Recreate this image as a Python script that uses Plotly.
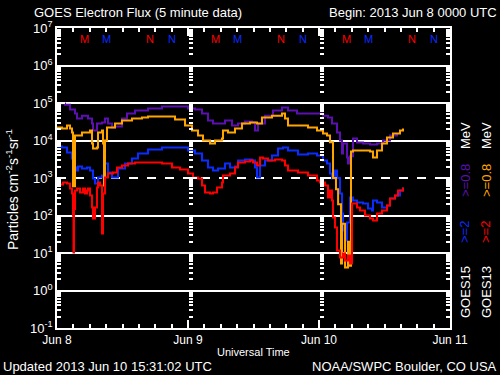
import plotly.graph_objects as go
import pandas as pd

START = pd.Timestamp("2013-06-08 00:00")
END = pd.Timestamp("2013-06-11 00:00")

# ---- data: hours since 2013-06-08 00:00 UTC, flux (particles cm^-2 s^-1 sr^-1)
g15_08_h = [0, 1.47, 2.38, 3.3, 3.66, 4.58, 5.68, 6.41, 6.6, 7.33, 8.24, 8.79, 9.34, 10.08, 10.63,
            11.91, 12.82, 14.29, 16.67, 19.24, 21.62, 24.0, 25.28, 26.57, 27.66, 28.58, 29.86, 30.78,
            32.06, 33.16, 34.44, 35.73, 36.28, 36.83, 38.11, 39.57, 41.22, 42.32, 43.97, 45.99, 47.82,
            48.73, 49.65, 50.38, 51.3, 51.85, 52.21, 52.4, 53.13, 53.31, 53.68, 54.23, 54.96, 56.06,
            57.34, 58.63, 59.73, 61.01, 62.29]
g15_08_v = [9.7e4, 9.0e4, 6.7e4, 5.25e4, 3.86e4, 4.6e4, 3.86e4, 2.84e4, 1.85e4, 2.84e4, 3.02e4, 3.86e4,
            2.84e4, 2.22e4, 2.36e4, 3.86e4, 5.25e4, 6.3e4, 7.1e4, 8.07e4, 8.07e4, 7.1e4, 6.7e4, 5.25e4,
            3.41e4, 2.84e4, 2.84e4, 3.41e4, 2.51e4, 2.84e4, 3.21e4, 3.02e4, 1.85e4, 2.84e4, 4.6e4, 6.3e4,
            7.6e4, 6.3e4, 5.25e4, 5.25e4, 5.25e4, 4.6e4, 4.1e4, 2.84e4, 1.63e4, 1.0e4, 4.5e3, 8.3e3,
            3.5e3, 2.44e3, 3.8e3, 1.13e4, 8.85e3, 8.3e3, 7.8e3, 8.3e3, 1.0e4, 1.36e4, 1.54e4]

g13_08_h = [0, 0.92, 1.83, 2.38, 2.75, 2.93, 3.3, 3.66, 4.58, 5.5, 6.05, 6.41, 6.6, 7.33, 7.51, 8.24,
            8.43, 8.61, 8.79, 9.16, 10.63, 11.91, 13.74, 15.57, 16.67, 19.24, 21.62, 23.45, 24.73, 25.83,
            26.75, 28.03, 28.95, 30.23, 30.41, 31.33, 32.61, 33.89, 35.36, 36.64, 37.56, 39.39, 41.22,
            41.77, 42.32, 44.15, 45.99, 47.63, 48.73, 49.47, 50.02, 50.57, 51.11, 51.5, 52.03, 52.21,
            52.77, 53.31, 53.68, 53.86, 54.23, 56.06, 57.34, 57.89, 58.63, 59.54, 60.46, 61.56, 62.84,
            63.39]
g13_08_v = [2.22e4, 2.09e4, 2.51e4, 2.09e4, 1.63e4, 600, 1.36e4, 1.36e4, 1.63e4, 1.63e4, 1.85e4, 8.3e3,
            6.1e3, 6.5e3, 1.63e4, 1.85e4, 8.3e3, 631, 1.0e4, 2.22e4, 2.84e4, 3.41e4, 3.86e4, 4.1e4,
            4.35e4, 4.35e4, 3.63e4, 2.5e4, 1.85e4, 1.36e4, 1.0e4, 8.3e3, 1.0e4, 1.13e4, 1.85e4, 1.63e4,
            2.09e4, 2.84e4, 3.02e4, 2.84e4, 4.1e4, 4.6e4, 5.25e4, 3.86e4, 2.51e4, 2.51e4, 2.22e4, 1.85e4,
            1.54e4, 1.36e4, 9e3, 1.0e3, 500, 200, 5.25, 60, 4.1, 20, 4.6, 5.1e3, 5.4e3, 5.4e3, 5.1e3,
            3.5e3, 5.4e3, 8.3e3, 1.2e4, 1.54e4, 1.85e4, 2.09e4]

g15_2_h = [0, 0.92, 1.83, 2.75, 3.3, 3.66, 3.85, 4.58, 5.5, 6.05, 6.6, 6.96, 7.51, 8.24, 8.79, 9.34,
           10.08, 10.63, 11.18, 12.46, 13.74, 14.84, 16.67, 19.24, 21.62, 24.0, 25.28, 26.57, 27.66,
           28.58, 29.5, 30.78, 31.7, 32.61, 33.16, 34.44, 35.73, 36.28, 36.64, 37.19, 38.11, 39.39,
           40.49, 41.4, 42.32, 44.15, 45.99, 47.63, 48.73, 49.47, 50.02, 50.38, 50.93, 51.3, 51.85,
           52.21, 52.4, 52.77, 53.13, 53.68, 54.23, 54.96, 56.06, 56.98, 57.71, 57.89, 58.63, 59.54,
           60.46, 61.01, 61.93, 62.84, 63.39]
g15_2_v = [6.9e3, 6.5e3, 4.8e3, 3.3e3, 1.9e3, 1.58e3, 2.03e3, 1.79e3, 1.9e3, 1.58e3, 970, 713, 1.03e3,
           1.17e3, 2.44e3, 1.4e3, 1.03e3, 1.03e3, 1.79e3, 2.44e3, 3.3e3, 4.5e3, 5.75e3, 6.5e3, 6.5e3,
           5.4e3, 4.5e3, 2.93e3, 1.9e3, 1.58e3, 1.79e3, 2.44e3, 1.9e3, 2.03e3, 2.93e3, 3.1e3, 2.93e3,
           1.9e3, 1.03e3, 2.15e3, 2.93e3, 4.0e3, 6.1e3, 6.5e3, 5.4e3, 4.24e3, 4.5e3, 4.0e3, 2.93e3,
           2.44e3, 1.32e3, 970, 1.58e3, 1.0e3, 386, 113, 40, 21.5, 65, 302, 251, 222, 209, 154, 136,
           251, 222, 163, 185, 284, 341, 464, 558]

g13_2_h = [0, 0.55, 1.1, 1.83, 2.38, 2.75, 2.93, 3.02, 3.11, 3.3, 3.66, 4.21, 4.76, 5.13, 5.5, 5.68,
           6.05, 6.41, 6.6, 6.96, 7.33, 7.51, 7.88, 8.24, 8.43, 8.79, 9.34, 10.26, 10.99, 11.91, 13.01,
           14.29, 16.12, 17.95, 19.24, 21.07, 22.53, 24.0, 24.92, 25.83, 26.57, 27.11, 28.03, 28.58,
           29.31, 30.23, 30.41, 31.7, 32.61, 33.16, 34.44, 35.36, 35.91, 36.64, 37.19, 37.74, 38.66,
           39.94, 41.22, 41.77, 42.32, 44.15, 45.99, 47.63, 48.18, 49.1, 49.65, 50.02, 50.38, 50.57,
           50.93, 51.3, 51.85, 52.4, 52.77, 53.31, 53.68, 54.05, 54.96, 55.51, 56.43, 57.34, 57.89,
           58.63, 59.54, 60.46, 61.01, 61.93, 62.47, 63.39]
g13_2_v = [631, 671, 759, 713, 525, 386, 100, 10.3, 150, 464, 525, 410, 525, 386, 464, 525, 341, 163,
           83, 163, 558, 759, 631, 33, 386, 1.03e3, 1.32e3, 1.4e3, 1.9e3, 2.15e3, 2.44e3, 2.59e3,
           2.59e3, 2.59e3, 2.44e3, 1.9e3, 1.69e3, 1.32e3, 1.03e3, 970, 631, 410, 386, 410, 558, 759,
           1.17e3, 1.32e3, 1.9e3, 2.59e3, 2.75e3, 2.93e3, 2.59e3, 2.15e3, 3.5e3, 3.3e3, 2.93e3, 3.1e3,
           2.93e3, 2.15e3, 1.58e3, 1.4e3, 1.17e3, 858, 759, 631, 302, 464, 251, 88, 48, 11.7, 7.6, 9.7,
           6.3, 8.6, 5.25, 209, 163, 136, 100, 83, 73.6, 113, 136, 185, 284, 341, 464, 558]

# local midnight (M) / noon (N) times of the satellites, hours since start
g13_midnight = [5, 29, 53]
g13_noon = [17, 41, 65]
g15_midnight = [9, 33, 57]
g15_noon = [21, 45, 69]

y_tickvals = [0.1, 1, 10, 100, 1e3, 1e4, 1e5, 1e6, 1e7]
y_ticktext = ["10<sup>-1</sup>", "10<sup>0</sup>", "10<sup>1</sup>", "10<sup>2</sup>", "10<sup>3</sup>",
              "10<sup>4</sup>", "10<sup>5</sup>", "10<sup>6</sup>", "10<sup>7</sup>"]
solid_grid = [1, 10, 100, 1e4, 1e5, 1e6]
dashed_grid = [1e3]

PURPLE = "#5c10b0"
ORANGE = "#ffa500"
BLUE = "#0a2cff"
RED = "#ff0000"
FONT = "Liberation Sans"


def t(hours):
    return START + pd.to_timedelta(hours, unit="h")


fig = go.Figure()
for h, v, c in [(g15_08_h, g15_08_v, PURPLE), (g15_2_h, g15_2_v, BLUE),
                (g13_08_h, g13_08_v, ORANGE), (g13_2_h, g13_2_v, RED)]:
    fig.add_trace(go.Scatter(x=t(h), y=v, mode="lines", line=dict(color=c, width=2, shape="hv"),
                             showlegend=False, hoverinfo="skip"))

W, H = 500, 375
L, R, T, B = 57, 50, 28, 47


def px(x):
    return (x - L) / (W - L - R)


def py(y):
    return (H - B - y) / (H - T - B)


ann = []
for times, letter, col in [(g13_midnight, "M", RED), (g15_midnight, "M", BLUE),
                           (g13_noon, "N", RED), (g15_noon, "N", BLUE)]:
    for hh in times:
        ann.append(dict(x=t(hh), xref="x", y=py(39), yref="paper", yanchor="middle", xanchor="center",
                        text=letter, showarrow=False, font=dict(color=col, size=11, family=FONT)))

white = "white"
other = [
    dict(x=px(32), y=py(13), xanchor="left", text="GOES Electron Flux (5 minute data)",
         font=dict(size=13, color=white, family=FONT)),
    dict(x=px(499), y=py(13), xanchor="right", text="Begin: 2013 Jun 8 0000 UTC",
         font=dict(size=13, color=white, family=FONT)),
    dict(x=px(253), y=py(352), text="Universal Time", font=dict(size=11, color=white, family=FONT)),
    dict(x=px(1), y=py(367), xanchor="left", text="Updated 2013 Jun 10 15:31:02 UTC",
         font=dict(size=13, color=white, family=FONT)),
    dict(x=px(499), y=py(367), xanchor="right", text="NOAA/SWPC Boulder, CO USA",
         font=dict(size=13, color=white, family=FONT)),
    dict(x=px(12), y=py(190), textangle=-90,
         text="Particles cm<sup>-2</sup>s<sup>-1</sup>sr<sup>-1</sup>",
         font=dict(size=14, color=white, family=FONT)),
    dict(x=px(465), y=py(292), textangle=-90, text="GOES15", font=dict(size=13, color=white, family=FONT)),
    dict(x=px(465), y=py(232), textangle=-90, text="&gt;=2", font=dict(size=13, color=BLUE, family=FONT)),
    dict(x=px(465), y=py(181), textangle=-90, text="&gt;=0.8", font=dict(size=13, color=PURPLE, family=FONT)),
    dict(x=px(465), y=py(136), textangle=-90, text="MeV", font=dict(size=13, color=white, family=FONT)),
    dict(x=px(486), y=py(292), textangle=-90, text="GOES13", font=dict(size=13, color=white, family=FONT)),
    dict(x=px(486), y=py(232), textangle=-90, text="&gt;=2", font=dict(size=13, color=RED, family=FONT)),
    dict(x=px(486), y=py(181), textangle=-90, text="&gt;=0.8", font=dict(size=13, color=ORANGE, family=FONT)),
    dict(x=px(486), y=py(136), textangle=-90, text="MeV", font=dict(size=13, color=white, family=FONT)),
]
for a in other:
    a.setdefault("xref", "paper")
    a.setdefault("yref", "paper")
    a.setdefault("xanchor", "center")
    a.setdefault("yanchor", "middle")
    a.setdefault("showarrow", False)
ann += other

minor_y = dict(ticks="inside", ticklen=4, tickcolor=white, tickwidth=1.5, dtick="D1")
base_y = dict(type="log", range=[-1, 7], showgrid=False, zeroline=False)

fig.update_layout(
    width=W, height=H,
    margin=dict(l=L, r=R, t=T, b=B),
    paper_bgcolor="black", plot_bgcolor="black",
    font=dict(family=FONT, color=white),
    annotations=ann,
    xaxis=dict(type="date", range=[START, END], tickformat="%b %-d", dtick=86400000, tick0=START,
               ticks="inside", ticklen=8, tickcolor=white, tickwidth=1.5,
               showline=True, linecolor=white, linewidth=1.5, mirror="ticks",
               showgrid=False, zeroline=False,
               minor=dict(dtick=3 * 3600000, ticks="inside", ticklen=4, tickcolor=white, tickwidth=1.5),
               tickfont=dict(size=12, color=white, family=FONT)),
    yaxis=dict(**base_y, tickmode="array", tickvals=y_tickvals, ticktext=y_ticktext,
               ticks="inside", ticklen=8, tickcolor=white, tickwidth=1.5,
               showline=True, linecolor=white, linewidth=1.5, mirror="ticks",
               minor=minor_y, tickfont=dict(size=13, color=white, family=FONT)),
    yaxis2=dict(**{**base_y, "showgrid": True}, overlaying="y", tickmode="array", tickvals=solid_grid,
                gridcolor=white, gridwidth=1.5, showticklabels=False, ticks=""),
    yaxis3=dict(**{**base_y, "showgrid": True}, overlaying="y", tickmode="array", tickvals=dashed_grid,
                gridcolor=white, gridwidth=1.5, griddash="dash", showticklabels=False, ticks=""),
    yaxis4=dict(**base_y, overlaying="y", anchor="free", position=1 / 3, side="left",
                tickmode="array", tickvals=y_tickvals, ticks="inside", ticklen=8, tickcolor=white,
                tickwidth=1.5, showline=False, showticklabels=False, minor=minor_y),
    yaxis5=dict(**base_y, overlaying="y", anchor="free", position=2 / 3, side="left",
                tickmode="array", tickvals=y_tickvals, ticks="inside", ticklen=8, tickcolor=white,
                tickwidth=1.5, showline=False, showticklabels=False, minor=minor_y),
)
# invisible traces so the auxiliary axes are rendered
for ax in ["y2", "y3", "y4", "y5"]:
    fig.add_trace(go.Scatter(x=[START], y=[1e7], yaxis=ax, mode="lines", showlegend=False,
                             hoverinfo="skip", line=dict(color="rgba(0,0,0,0)")))

fig.write_html("out.html", config={"displayModeBar": False},
               post_script="document.body.style.margin='0px';document.body.style.background='black';")
